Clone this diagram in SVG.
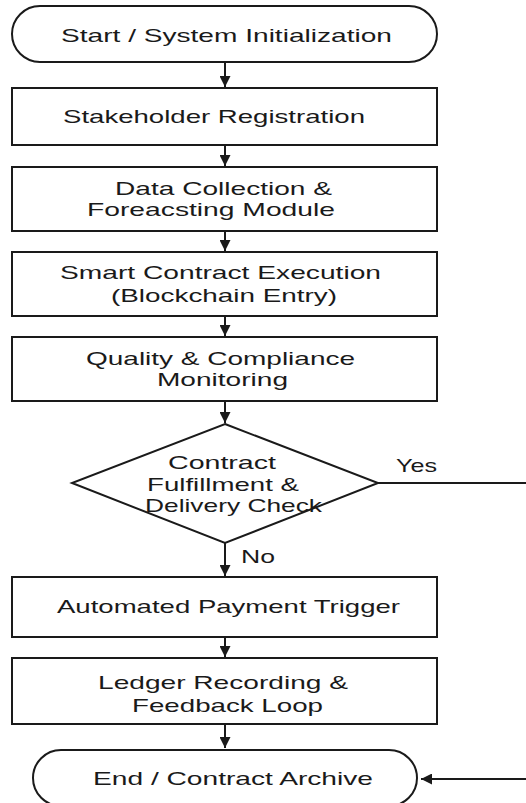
<svg xmlns="http://www.w3.org/2000/svg" width="526" height="803" viewBox="0 0 526 803">
<style>
.n{fill:#fff;stroke:#1a1a1a;stroke-width:2}
.t{font-family:"Liberation Sans",Arial,sans-serif;font-size:19px;fill:#1a1a1a}
.c{stroke:#1a1a1a;stroke-width:2;fill:none}
</style>
<defs>
<marker id="ah" viewBox="0 0 10 10" refX="10" refY="5" markerWidth="5.5" markerHeight="5.5" orient="auto" markerUnits="strokeWidth">
<path d="M0,0 L10,5 L0,10 Z" fill="#1a1a1a"/>
</marker>
</defs>
<rect width="526" height="803" fill="#fff"/>
<g id="connectors">
<line class="c" x1="225" y1="62" x2="225" y2="87" marker-end="url(#ah)"/>
<line class="c" x1="225" y1="145" x2="225" y2="166" marker-end="url(#ah)"/>
<line class="c" x1="225" y1="231" x2="225" y2="251" marker-end="url(#ah)"/>
<line class="c" x1="225" y1="316" x2="225" y2="336" marker-end="url(#ah)"/>
<line class="c" x1="225" y1="401" x2="225" y2="423" marker-end="url(#ah)"/>
<line class="c" x1="225" y1="543" x2="225" y2="576" marker-end="url(#ah)"/>
<line class="c" x1="225" y1="637" x2="225" y2="657" marker-end="url(#ah)"/>
<line class="c" x1="225" y1="724" x2="225" y2="748" marker-end="url(#ah)"/>
<line class="c" x1="378" y1="483" x2="526" y2="483"/>
<line class="c" x1="526" y1="779" x2="421" y2="779" marker-end="url(#ah)"/>
<text class="t" x="396" y="472" textLength="41" lengthAdjust="spacingAndGlyphs">Yes</text>
<text class="t" x="241" y="563" textLength="34" lengthAdjust="spacingAndGlyphs">No</text>
</g>
<g id="start">
<rect class="n" x="12" y="6" width="425" height="56" rx="28"/>
<text class="t" x="61" y="42" textLength="331" lengthAdjust="spacingAndGlyphs">Start / System Initialization</text>
</g>
<g id="registration">
<rect class="n" x="12" y="88" width="425" height="57"/>
<text class="t" x="63" y="123" textLength="302" lengthAdjust="spacingAndGlyphs">Stakeholder Registration</text>
</g>
<g id="datacollection">
<rect class="n" x="12" y="167" width="425" height="64"/>
<text class="t" x="115" y="195" textLength="217" lengthAdjust="spacingAndGlyphs">Data Collection &amp;</text>
<text class="t" x="87" y="216" textLength="248" lengthAdjust="spacingAndGlyphs">Foreacsting Module</text>
</g>
<g id="smartcontract">
<rect class="n" x="12" y="252" width="425" height="64"/>
<text class="t" x="60" y="279" textLength="321" lengthAdjust="spacingAndGlyphs">Smart Contract Execution</text>
<text class="t" x="111" y="302" textLength="226" lengthAdjust="spacingAndGlyphs">(Blockchain Entry)</text>
</g>
<g id="quality">
<rect class="n" x="12" y="337" width="425" height="64"/>
<text class="t" x="86" y="365" textLength="269" lengthAdjust="spacingAndGlyphs">Quality &amp; Compliance</text>
<text class="t" x="157" y="386" textLength="131" lengthAdjust="spacingAndGlyphs">Monitoring</text>
</g>
<g id="decision">
<polygon class="n" points="225,424 378,483 225,543 72,483"/>
<text class="t" x="168" y="469" textLength="108" lengthAdjust="spacingAndGlyphs">Contract</text>
<text class="t" x="147" y="491" textLength="152" lengthAdjust="spacingAndGlyphs">Fulfillment &amp;</text>
<text class="t" x="145" y="512" textLength="177" lengthAdjust="spacingAndGlyphs">Delivery Check</text>
</g>
<g id="payment">
<rect class="n" x="12" y="577" width="425" height="60"/>
<text class="t" x="57" y="613" textLength="343" lengthAdjust="spacingAndGlyphs">Automated Payment Trigger</text>
</g>
<g id="ledger">
<rect class="n" x="12" y="658" width="425" height="66"/>
<text class="t" x="98" y="689" textLength="250" lengthAdjust="spacingAndGlyphs">Ledger Recording &amp;</text>
<text class="t" x="132" y="712" textLength="191" lengthAdjust="spacingAndGlyphs">Feedback Loop</text>
</g>
<g id="end">
<rect class="n" x="33" y="750" width="384" height="56" rx="28"/>
<text class="t" x="93" y="785" textLength="280" lengthAdjust="spacingAndGlyphs">End / Contract Archive</text>
</g>
</svg>
